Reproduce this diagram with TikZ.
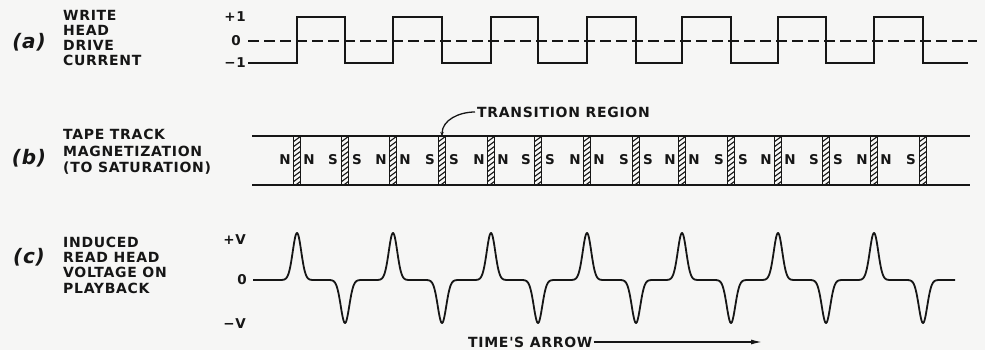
\documentclass[tikz,border=0pt]{standalone}
\usepackage{fontspec}
\usetikzlibrary{arrows.meta}
\newfontfamily\lett{DejaVu Sans}[LetterSpace=5]
\newfontfamily\partlett{DejaVu Sans}[LetterSpace=4]
\definecolor{ink}{HTML}{161616}
\definecolor{paper}{HTML}{F6F6F5}
\def\edges{297,345,393,442,491,538,587,636,682,731,778,826,874,923}
\begin{document}
\begin{tikzpicture}[x=1pt,y=-1pt,
  lbl/.style={font=\lett\bfseries\fontsize{14}{15}\selectfont, inner sep=0pt, align=left, text=ink},
  axl/.style={font=\lett\bfseries\fontsize{13.5}{15}\selectfont, inner sep=0pt, text=ink},
  pole/.style={font=\lett\bfseries\fontsize{13.5}{15}\selectfont, inner sep=0pt, text=ink},
  part/.style={font=\partlett\bfseries\itshape\fontsize{20}{20}\selectfont, inner sep=0pt, text=ink},
  sig/.style={draw=ink, line width=1.8pt, line join=miter},
  zeroline/.style={draw=ink, line width=1.5pt, dash pattern=on 11pt off 5pt},
  tape/.style={draw=ink, line width=1.5pt},
  strip/.style={draw=ink, line width=1.2pt},
  hatch/.style={draw=ink, line width=1.1pt},
  lead/.style={draw=ink, line width=1.3pt, -{Stealth[length=4pt,width=3.5pt]}},
  timearrow/.style={draw=ink, line width=1.3pt, -{Latex[length=11pt,width=5pt]}}]
\useasboundingbox[fill=paper] (0,0) rectangle (985,350);

% ---------------- (a) ----------------
\node[part] (pa) at (29,42) {(a)};
\node[lbl, anchor=west] (la) at (63,37.5) {WRITE\\HEAD\\DRIVE\\CURRENT};
\node[axl, anchor=east] (ap) at (246,17) {+1};
\node[axl, anchor=east] (a0) at (241,41) {0};
\node[axl, anchor=east] (am) at (246,63) {−1};
\draw[zeroline] (a0.east) ++(7,0) -- (977,41);
\draw[sig] (am.east) ++(2,0) -- (297,63)
  \foreach \c [count=\n from 0,
               evaluate=\n as \ya using {17+46*(1-mod(\n,2))},
               evaluate=\n as \yb using {63-46*(1-mod(\n,2))}] in \edges
  { -- (\c,\ya) -- (\c,\yb) } -- (968,63);

% ---------------- (b) ----------------
\node[part] (pb) at (29,158) {(b)};
\node[lbl, anchor=west, font=\lett\bfseries\fontsize{14}{16.5}\selectfont] (lb) at (63,152) {TAPE TRACK\\MAGNETIZATION\\(TO SATURATION)};
\draw[tape] (252,136) -- (970,136);
\draw[tape] (252,185) -- (970,185);
\foreach \c [count=\k from 0] in \edges {
  \begin{scope}
    \clip (\c-3.5,136) rectangle (\c+3.5,185);
    \foreach \yy in {134,139,...,190}
      \draw[hatch] (\c-4,\yy+3) -- (\c+4,\yy-3);
  \end{scope}
  \draw[strip] (\c-3.5,136) rectangle (\c+3.5,185);
  \ifodd\k\def\pl{S}\else\def\pl{N}\fi
  \node[pole] (L\k) at (\c-12,160) {\pl};
  \ifnum\k<13
    \node[pole] (R\k) at (\c+12,160) {\pl};
  \fi
  \coordinate (top\k) at (\c,136);
}
\node[lbl, anchor=west] (tr) at (477,112) {TRANSITION REGION};
\draw[lead] (tr.west) ++(-2,0) to[out=180,in=90] (top3);

% ---------------- (c) ----------------
\node[part] (pc) at (29,257) {(c)};
\node[lbl, anchor=west, font=\lett\bfseries\fontsize{14}{15.3}\selectfont] (lc) at (63,265) {INDUCED\\READ HEAD\\VOLTAGE ON\\PLAYBACK};
\node[axl, anchor=east] (cp) at (246,240) {+V};
\node[axl, anchor=east] (c0) at (247,280) {0};
\node[axl, anchor=east] (cm) at (246,324) {−V};
\draw[sig, line join=round] (c0.east) ++(6,0) -- (280,280)
  \foreach \c [count=\n from 0,
               evaluate=\n as \a using {47-90*mod(\n,2)}] in \edges
  { -- plot[domain=-17:17, samples=69] ({\c+\x},{280-\a*exp(-((\x/6.0)*(\x/6.0)))}) }
  -- (955,280);

\node[lbl, anchor=west] (time) at (468,342) {TIME'S ARROW};
\draw[timearrow] (time.east) ++(1,0) -- (762,342);
\end{tikzpicture}
\end{document}
